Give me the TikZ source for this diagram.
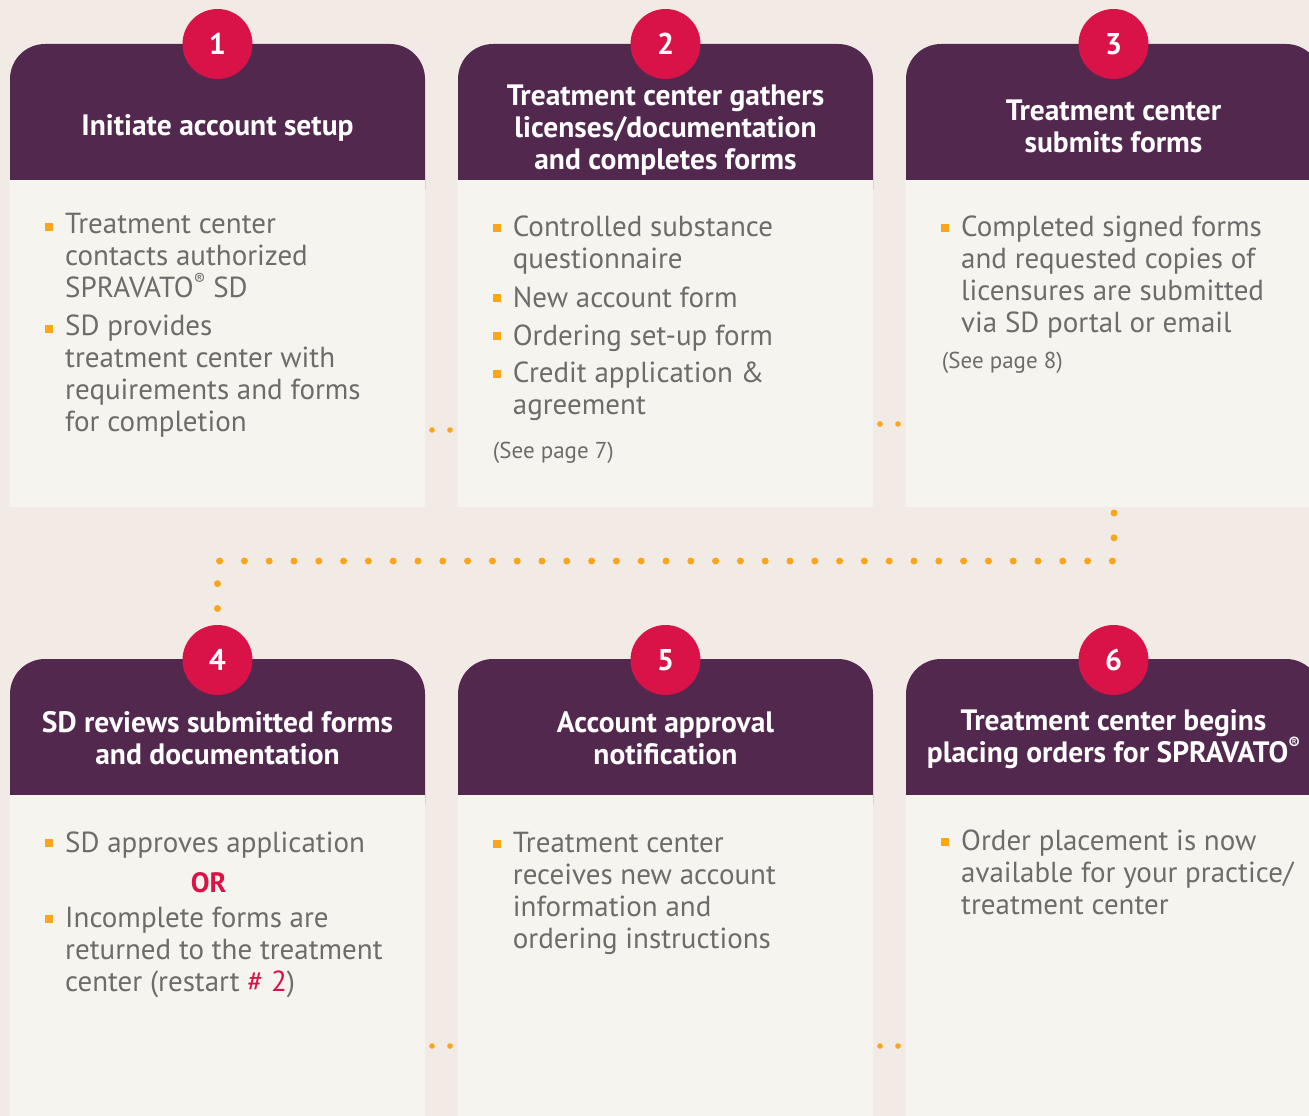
\documentclass[tikz,border=0pt]{standalone}
\usepackage{fontspec}
\setmainfont{PT Sans}
\usetikzlibrary{calc}

\definecolor{bgpage}{HTML}{F2EAE4}
\definecolor{bgbody}{HTML}{F6F4EF}
\definecolor{hdpurple}{HTML}{52284F}
\definecolor{numred}{HTML}{D91248}
\definecolor{dotorange}{HTML}{F9A61A}
\definecolor{txtgray}{HTML}{6E6C6A}

\newcommand{\regmark}{\raisebox{0.42em}{\fontsize{17}{17}\selectfont ®}}

\tikzset{
  header/.style={fill=hdpurple, rounded corners=35pt},
  panelbody/.style={fill=bgbody},
  numcircle/.style={circle, fill=numred, minimum size=70pt, inner sep=0pt,
    text=white, font=\fontsize{30}{30}\selectfont\bfseries},
  headtext/.style={text=white, align=center, anchor=north, inner sep=0pt,
    font=\fontsize{29.5}{32}\selectfont\bfseries,
    execute at begin node={\rule{0pt}{21pt}}},
  itemtext/.style={text=txtgray, align=left, anchor=north west, inner sep=0pt,
    font=\fontsize{29}{32}\selectfont,
    execute at begin node={\rule{0pt}{22pt}}},
  bullet/.style={rectangle, fill=dotorange, minimum size=8pt, inner sep=0pt},
  pagenote/.style={text=txtgray, anchor=base west, inner sep=0pt,
    font=\fontsize{23}{26}\selectfont},
  flowdots/.style={draw=dotorange, line width=7pt, line cap=round,
    dash pattern=on 0pt off 24.8pt},
}

\begin{document}
\begin{tikzpicture}[x=1pt, y=-1pt]
    \useasboundingbox (0,0) rectangle (1309,1116);
    \clip (0,0) rectangle (1309,1116);
    \fill[bgpage] (0,0) rectangle (1309,1116);

    % panels
    \foreach \px in {10,458,906} {
      \foreach \py in {44,659} {
        \fill[header] (\px,\py) rectangle (\px+415,\py+180);
        \fill[panelbody] (\px,\py+136) rectangle (\px+415,\py+463);
      }
    }

    \foreach \dx/\dy in {432/430, 450/430, 880/424, 898/424,
                         432/1046, 450/1046, 880/1046, 898/1046}
      \fill[dotorange] (\dx,\dy) circle (2.8pt);

    \node[numcircle] (n1) at (217.5,44) {1};
    \node[numcircle] (n2) at (665.5,44) {2};
    \node[numcircle] (n3) at (1113.5,44) {3};
    \node[numcircle] (n4) at (217.5,660) {4};
    \node[numcircle] (n5) at (665.5,660) {5};
    \node[numcircle] (n6) at (1113.5,660) {6};

    \node[headtext] (h1) at (217.5,114) {Initiate account setup};
    \node[headtext] (h2) at (665.5,85) {Treatment center gathers\\licenses/documentation\\and completes forms};
    \node[headtext] (h3) at (1113.5,100) {Treatment center\\submits forms};
    \node[headtext] (h4) at (217.5,711) {SD reviews submitted forms\\and documentation};
    \node[headtext] (h5) at (665.5,711) {Account approval\\notification};
    \node[headtext] (h6) at (1113.5,709) {Treatment center begins\\placing orders for SPRAVATO\regmark};

    % step 1
    \node[bullet] (s1a) at (49,227) {};
    \node[itemtext] (t1a) at (65,213) {Treatment center\\contacts authorized\\SPRAVATO\regmark{} SD};
    \node[bullet] (s1b) at (49,329) {};
    \node[itemtext] (t1b) at (65,315) {SD provides\\treatment center with\\requirements and forms\\for completion};

    % step 2
    \node[bullet] (s2a) at (497,228) {};
    \node[itemtext] (t2a) at (512.7,215.5) {Controlled substance\\questionnaire};
    \node[bullet] (s2b) at (497,298) {};
    \node[itemtext] (t2b) at (512.7,285) {New account form};
    \node[bullet] (s2c) at (497,336) {};
    \node[itemtext] (t2c) at (512.7,323) {Ordering set-up form};
    \node[bullet] (s2d) at (497,374) {};
    \node[itemtext] (t2d) at (512.7,361.5) {Credit application \&\\agreement};
    \node[pagenote] (p2) at (492.7,458) {(See page 7)};

    % step 3
    \node[bullet] (s3a) at (945,228) {};
    \node[itemtext] (t3a) at (961,215.5) {Completed signed forms\\and requested copies of\\licensures are submitted\\via SD portal or email};
    \node[pagenote] (p3) at (941.7,368) {(See page 8)};

    % step 4
    \node[bullet] (s4a) at (49,843) {};
    \node[itemtext] (t4a) at (65,830.5) {SD approves application};
    \node[text=numred, font=\fontsize{28}{28}\selectfont\bfseries, inner sep=0pt] (or4) at (208.7,883) {OR};
    \node[bullet] (s4b) at (49,919) {};
    \node[itemtext] (t4b) at (65,906.5) {Incomplete forms are\\returned to the treatment\\center (restart {\color{numred}\# 2})};

    % step 5
    \node[bullet] (s5a) at (497,844) {};
    \node[itemtext] (t5a) at (512.7,831.5) {Treatment center\\receives new account\\information and\\ordering instructions};

    % step 6
    \node[bullet] (s6a) at (945,842) {};
    \node[itemtext] (t6a) at (961,829.5) {Order placement is now\\available for your practice/\\treatment center};

    \coordinate (p3b) at (1114,513);
    \draw[flowdots] (p3b) -- ++(0,48) -| ($(n4.north)+(0,-16)$);
\end{tikzpicture}
\end{document}
